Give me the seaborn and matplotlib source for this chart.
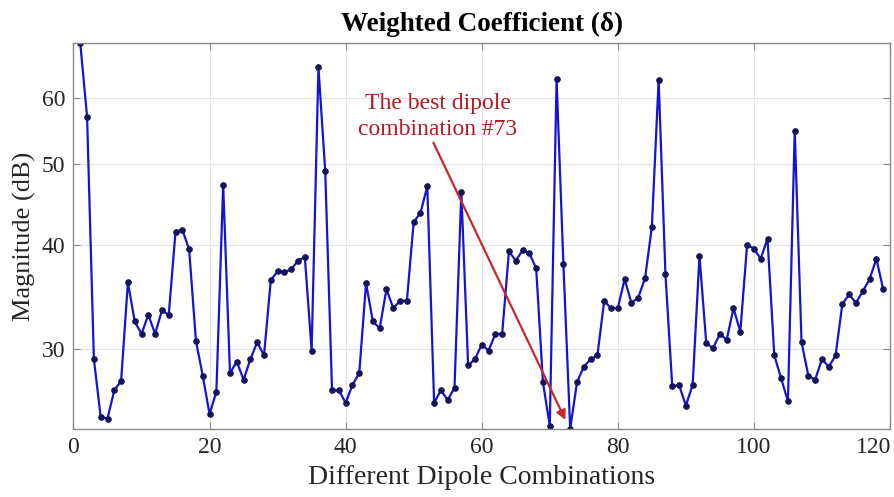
import numpy as np
import pandas as pd
import matplotlib
matplotlib.use("Agg")
import matplotlib.pyplot as plt
import matplotlib.transforms as mtransforms
import seaborn as sns
from matplotlib.ticker import FixedLocator, FixedFormatter, NullLocator

# ---- data ----
combination = list(range(1, 120))
magnitude_db = [
    69.7, 56.9, 29.2, 24.9, 24.8, 26.8, 27.5, 36.1, 32.4, 31.3,
    33.0, 31.3, 33.4, 33.0, 41.5, 41.7, 39.5, 30.7, 27.9, 25.1,
    26.7, 47.2, 28.1, 29.0, 27.6, 29.2, 30.6, 29.5, 36.3, 37.2,
    37.1, 37.4, 38.3, 38.7, 29.9, 65.2, 49.0, 26.8, 26.8, 25.9,
    27.2, 28.1, 36.0, 32.4, 31.8, 35.4, 33.6, 34.3, 34.3, 42.6,
    43.7, 47.0, 25.9, 26.8, 26.1, 27.0, 46.3, 28.7, 29.2, 30.4,
    29.9, 31.3, 31.3, 39.3, 38.3, 39.4, 39.1, 37.5, 27.4, 24.3,
    63.1, 38.0, 24.1, 27.4, 28.6, 29.2, 29.5, 34.3, 33.6, 33.6,
    36.4, 34.1, 34.6, 36.5, 42.0, 63.0, 36.9, 27.1, 27.2, 25.7,
    27.2, 38.8, 30.5, 30.1, 31.3, 30.8, 33.6, 31.5, 40.0, 39.6,
    38.5, 40.7, 29.5, 27.7, 26.0, 54.8, 30.6, 27.9, 27.6, 29.2,
    28.6, 29.5, 34.0, 34.9, 34.1, 35.2, 36.4, 38.5, 35.4,
]
x_ticks = [0, 20, 40, 60, 80, 100, 120]
y_ticks = [30, 40, 50, 60]
y_tick_labels = ["30", "40", "50", "60"]
title_text = "Weighted Coefficient (\u03b4)"
xlabel_text = "Different Dipole Combinations"
ylabel_text = "Magnitude (dB)"
annot_text = "The best dipole\ncombination #73"
best_index = 73

df = pd.DataFrame({"combination": combination, "magnitude": magnitude_db})

sns.set_style("whitegrid")
plt.rcParams["font.family"] = ["Liberation Serif", "DejaVu Serif"]

fig = plt.figure(figsize=(8.95, 4.97), dpi=100)
ax = fig.add_axes([0.0821, 0.137, 0.9123, 0.776])

sns.lineplot(data=df, x="combination", y="magnitude", ax=ax,
             color="#1414d2", linewidth=1.6, marker="o", markersize=4,
             markerfacecolor="#14145a", markeredgecolor="#14145a")

ax.set_yscale("log")
ax.set_xlim(0, 120)
ax.set_ylim(min(magnitude_db), max(magnitude_db))
ax.yaxis.set_major_locator(FixedLocator(y_ticks))
ax.yaxis.set_major_formatter(FixedFormatter(y_tick_labels))
ax.yaxis.set_minor_locator(NullLocator())
ax.set_xticks(x_ticks)

ax.grid(True, color="#e3e3e3", linewidth=0.8)
for s in ax.spines.values():
    s.set_visible(True)
    s.set_color("#8a8a8a")
    s.set_linewidth(1.0)
ax.tick_params(axis="both", which="both", direction="in", length=5,
               color="#8a8a8a", labelsize=17, labelcolor="#262626",
               top=True, right=True, left=True, bottom=True, pad=6)

# keep the last x tick label inside the figure
fig.canvas.draw()
last_lbl = ax.get_xticklabels()[-1]
last_lbl.set_transform(last_lbl.get_transform() +
                       mtransforms.ScaledTranslation(-16 / 100, 0, fig.dpi_scale_trans))

ax.set_xlabel(xlabel_text, fontsize=20, color="#262626", labelpad=5)
ax.set_ylabel(ylabel_text, fontsize=19, color="#262626", labelpad=4)
ax.set_title(title_text, fontsize=19.5, fontweight="bold", color="black", pad=9)

# annotation
ax.text(53.5, 57.0, annot_text, color="#b01a24", fontsize=17,
        ha="center", va="center", linespacing=1.3)
ax.annotate("", xy=(best_index - 0.7, 24.7), xytext=(52.9, 53.0),
            arrowprops=dict(arrowstyle="-|>", color="#c8282a", lw=1.6,
                            mutation_scale=14, shrinkA=0, shrinkB=0))

fig.savefig("out.png", dpi=100)
